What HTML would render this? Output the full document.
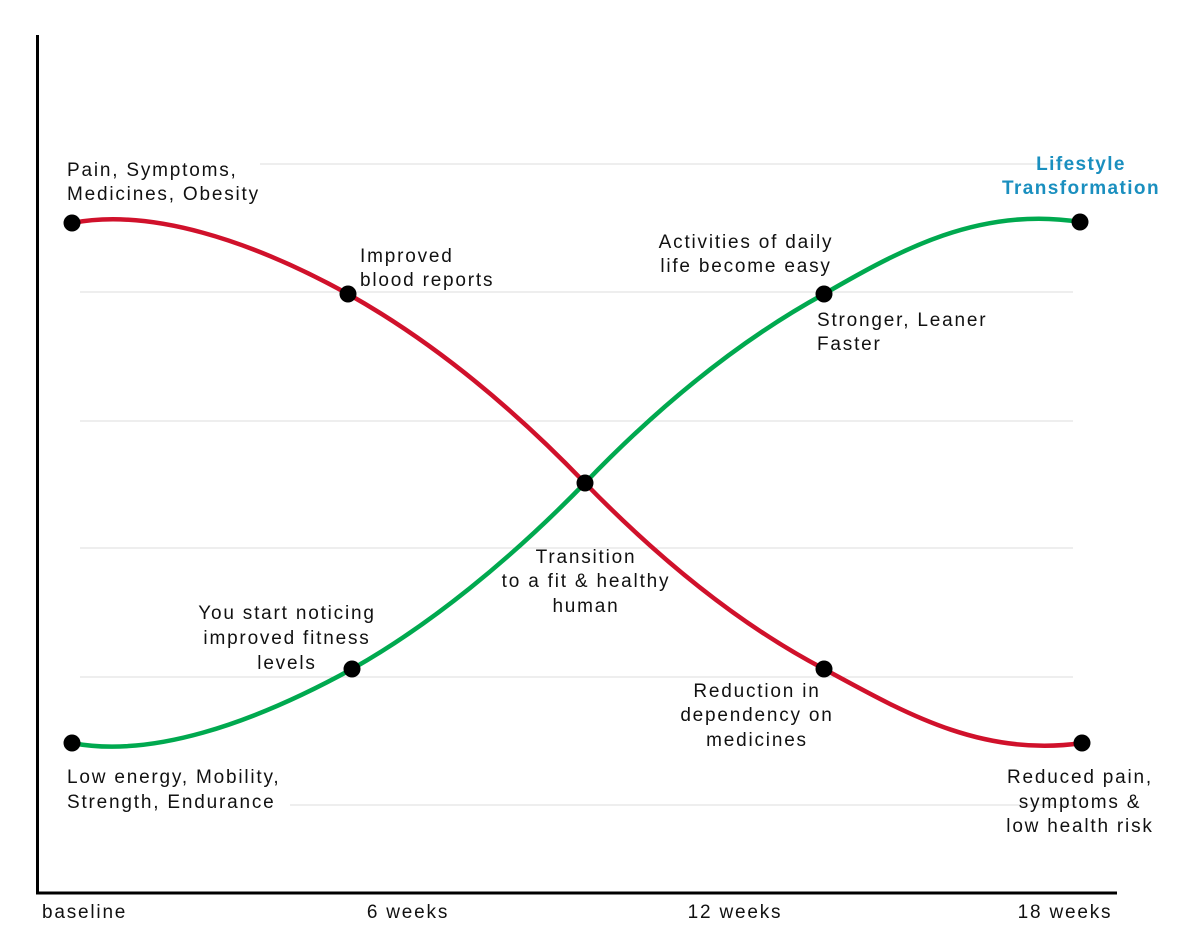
<!DOCTYPE html>
<html><head><meta charset="utf-8"><style>
html,body{margin:0;padding:0;background:#fff;}
svg{display:block;}
text{font-family:"Liberation Sans",sans-serif;font-size:19px;fill:#111;letter-spacing:1.8px;}
</style></head><body>
<svg width="1197" height="952" viewBox="0 0 1197 952" xmlns="http://www.w3.org/2000/svg">
<g stroke="#dcdcdc" stroke-width="1">
<line x1="260" y1="164" x2="1073" y2="164"/>
<line x1="80" y1="292" x2="1073" y2="292"/>
<line x1="80" y1="421" x2="1073" y2="421"/>
<line x1="80" y1="548" x2="1073" y2="548"/>
<line x1="80" y1="677" x2="1073" y2="677"/>
<line x1="290" y1="805" x2="1073" y2="805"/>
</g>
<line x1="37.5" y1="35" x2="37.5" y2="894" stroke="#000" stroke-width="3"/>
<line x1="36" y1="893" x2="1117" y2="893" stroke="#000" stroke-width="3"/>
<path d="M72,223 C150,208 250,240 348,294 C430,340 510,405 585,483 C660,560 740,625 824,669 C900,710 980,758 1082,743" fill="none" stroke="#d0112b" stroke-width="4.5"/>
<path d="M72,743 C150,758 250,725 352,669 C430,625 510,560 585,483 C660,405 740,340 824,294 C900,250 980,206 1080,222" fill="none" stroke="#00a94f" stroke-width="4.5"/>
<g fill="#000">
<circle cx="72" cy="223" r="8.5"/><circle cx="348" cy="294" r="8.5"/><circle cx="585" cy="483" r="8.5"/>
<circle cx="824" cy="669" r="8.5"/><circle cx="1082" cy="743" r="8.5"/><circle cx="72" cy="743" r="8.5"/>
<circle cx="352" cy="669" r="8.5"/><circle cx="824" cy="294" r="8.5"/><circle cx="1080" cy="222" r="8.5"/>
</g>
<text x="67" y="176">Pain, Symptoms,</text>
<text x="67" y="200">Medicines, Obesity</text>
<text x="360" y="262">Improved</text>
<text x="360" y="286">blood reports</text>
<text x="746" y="248" text-anchor="middle">Activities of daily</text>
<text x="746" y="272" text-anchor="middle">life become easy</text>
<text x="817" y="326">Stronger, Leaner</text>
<text x="817" y="350">Faster</text>
<text x="1081" y="170" text-anchor="middle" style="fill:#1a8fbf;font-weight:bold;letter-spacing:1.4px">Lifestyle</text>
<text x="1081" y="194" text-anchor="middle" style="fill:#1a8fbf;font-weight:bold;letter-spacing:1.4px">Transformation</text>
<text x="586" y="563" text-anchor="middle">Transition</text>
<text x="586" y="587" text-anchor="middle">to a fit &amp; healthy</text>
<text x="586" y="612" text-anchor="middle">human</text>
<text x="287" y="619" text-anchor="middle">You start noticing</text>
<text x="287" y="644" text-anchor="middle">improved fitness</text>
<text x="287" y="669" text-anchor="middle">levels</text>
<text x="757" y="697" text-anchor="middle">Reduction in</text>
<text x="757" y="721" text-anchor="middle">dependency on</text>
<text x="757" y="746" text-anchor="middle">medicines</text>
<text x="67" y="783">Low energy, Mobility,</text>
<text x="67" y="808">Strength, Endurance</text>
<text x="1080" y="783" text-anchor="middle">Reduced pain,</text>
<text x="1080" y="808" text-anchor="middle">symptoms &amp;</text>
<text x="1080" y="832" text-anchor="middle">low health risk</text>
<text x="42" y="918">baseline</text>
<text x="408" y="918" text-anchor="middle">6 weeks</text>
<text x="735" y="918" text-anchor="middle">12 weeks</text>
<text x="1065" y="918" text-anchor="middle">18 weeks</text>
</svg>
</body></html>
